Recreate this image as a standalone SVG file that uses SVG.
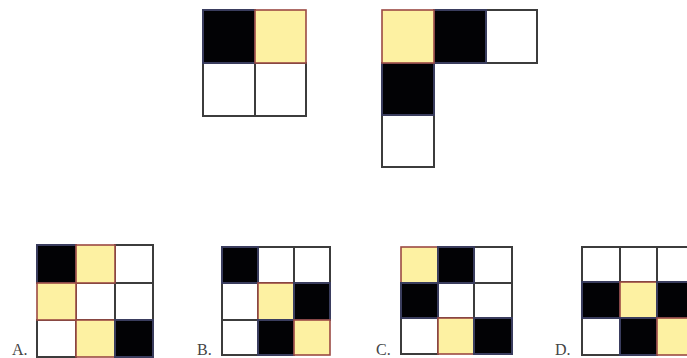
<svg xmlns="http://www.w3.org/2000/svg" width="687" height="358" viewBox="0 0 687 358">
<style>
.w{fill:#fff;stroke:#3c3c3c;stroke-width:2}
.k{fill:#020205;stroke:#3a3d5e;stroke-width:2}
.y{fill:#fdf1a2;stroke:#9c4a44;stroke-width:1.6}
.lbl{font-family:"Liberation Serif",serif;font-size:16px;fill:#444}
</style>
<rect width="687" height="358" fill="#fff"/>
<g id="fig1">
<rect class="w" x="203" y="63" width="52" height="53"/>
<rect class="w" x="255" y="63" width="51" height="53"/>
<rect class="k" x="203" y="10" width="52" height="53"/>
<rect class="y" x="255" y="10" width="51" height="53"/>
</g>
<g id="fig2">
<rect class="w" x="486" y="10" width="51" height="53"/>
<rect class="w" x="382" y="115" width="52" height="52"/>
<rect class="k" x="434" y="10" width="52" height="53"/>
<rect class="k" x="382" y="63" width="52" height="52"/>
<rect class="y" x="382" y="10" width="52" height="53"/>
</g>
<g id="optA">
<text class="lbl" x="12" y="355">A.</text>
<rect class="w" x="115" y="245" width="38" height="38"/>
<rect class="w" x="76" y="283" width="39" height="37"/>
<rect class="w" x="115" y="283" width="38" height="37"/>
<rect class="w" x="37" y="320" width="39" height="37"/>
<rect class="k" x="37" y="245" width="39" height="38"/>
<rect class="y" x="76" y="245" width="39" height="38"/>
<rect class="y" x="37" y="283" width="39" height="37"/>
<rect class="y" x="76" y="320" width="39" height="37"/>
<rect class="k" x="115" y="320" width="38" height="37"/>
</g>
<g id="optB">
<text class="lbl" x="197" y="355">B.</text>
<rect class="w" x="258" y="247" width="36" height="36"/>
<rect class="w" x="294" y="247" width="36" height="36"/>
<rect class="w" x="222" y="283" width="36" height="37"/>
<rect class="w" x="222" y="320" width="36" height="35"/>
<rect class="k" x="222" y="247" width="36" height="36"/>
<rect class="y" x="258" y="283" width="36" height="37"/>
<rect class="k" x="294" y="283" width="36" height="37"/>
<rect class="k" x="258" y="320" width="36" height="35"/>
<rect class="y" x="294" y="320" width="36" height="35"/>
</g>
<g id="optC">
<text class="lbl" x="376" y="355">C.</text>
<rect class="w" x="474" y="247" width="38" height="36"/>
<rect class="w" x="438" y="283" width="36" height="35"/>
<rect class="w" x="474" y="283" width="38" height="35"/>
<rect class="w" x="401" y="318" width="37" height="36"/>
<rect class="y" x="401" y="247" width="37" height="36"/>
<rect class="k" x="438" y="247" width="36" height="36"/>
<rect class="k" x="401" y="283" width="37" height="35"/>
<rect class="y" x="438" y="318" width="36" height="36"/>
<rect class="k" x="474" y="318" width="38" height="36"/>
</g>
<g id="optD">
<text class="lbl" x="555" y="355">D.</text>
<rect class="w" x="582" y="247" width="38" height="35"/>
<rect class="w" x="620" y="247" width="37" height="35"/>
<rect class="w" x="657" y="247" width="37" height="35"/>
<rect class="w" x="582" y="318" width="38" height="37"/>
<rect class="k" x="582" y="282" width="38" height="36"/>
<rect class="y" x="620" y="282" width="37" height="36"/>
<rect class="k" x="657" y="282" width="37" height="36"/>
<rect class="k" x="620" y="318" width="37" height="37"/>
<rect class="y" x="657" y="318" width="37" height="37"/>
</g>
</svg>
